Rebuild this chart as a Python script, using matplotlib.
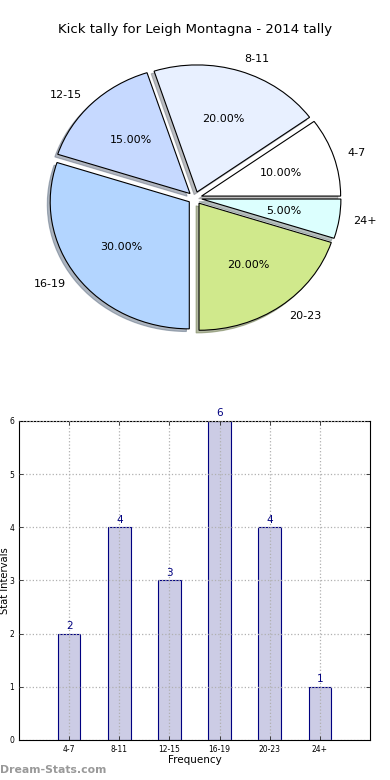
import matplotlib
matplotlib.use("Agg")
import matplotlib.pyplot as plt

# ── Data ───────────────────────────────────────────────────────────────────────
categories = ['4-7', '8-11', '12-15', '16-19', '20-23', '24+']
counts     = [2, 4, 3, 6, 4, 1]
pie_colors = ['#ffffff', '#e8f0ff', '#c6d9ff', '#b3d5ff', '#d0e98c', '#dcfffe']
yticks     = [0, 1, 2, 3, 4, 5, 6]

NAVY = '#000080'

fig = plt.figure(figsize=(3.9, 7.8), dpi=100)

# ── Pie (old-style, not forced to a circle) ───────────────────────────────────
ax1 = fig.add_axes([0.0718, 0.5506, 0.856, 0.391])
ax1.pie(counts, labels=categories, colors=pie_colors, explode=[0.05] * 6,
        autopct='%1.2f%%', shadow={'ox': -0.015, 'oy': -0.015, 'shade': 0.5},
        startangle=0, counterclock=True,
        wedgeprops={'edgecolor': 'black', 'linewidth': 0.8},
        textprops={'fontsize': 8})
ax1.set_aspect('auto')
ax1.set_xlim(-1.2, 1.2); ax1.set_ylim(-1.2, 1.2)
fig.text(0.5, 0.962, 'Kick tally for Leigh Montagna - 2014 tally',
         ha='center', va='center', fontsize=9.5)

# ── Bars ───────────────────────────────────────────────────────────────────────
ax2 = fig.add_axes([0.0487, 0.0513, 0.9, 0.409])
x = list(range(len(categories)))
ax2.bar(x, counts, width=0.45, facecolor=(0, 0, 0.5, 0.2),
        edgecolor=NAVY, linewidth=0.8, zorder=1)
for xi, c in zip(x, counts):
    ax2.text(xi, c + 0.05, str(c), ha='center', va='bottom',
             color=NAVY, fontsize=7.5)
ax2.set_xlim(-1, 6); ax2.set_ylim(0, 6)
ax2.set_xticks(x); ax2.set_xticklabels(categories)
ax2.set_yticks(yticks)
ax2.tick_params(labelsize=5.5, direction='in', top=True, right=True,
                length=3, width=0.5)
ax2.grid(True, linestyle=':', color='#b0b0b0', linewidth=0.9, zorder=2)
ax2.set_axisbelow(False)
ax2.set_xlabel('Frequency', fontsize=7.5, labelpad=1)
ax2.set_ylabel('Stat Intervals', fontsize=7.2)
ax2.yaxis.set_label_coords(-0.026, 0.5)

fig.text(0.0, 0.013, 'Dream-Stats.com', ha='left', va='center',
         fontsize=7.8, color='#999999', fontweight='bold')

fig.savefig('out.png', dpi=100)
